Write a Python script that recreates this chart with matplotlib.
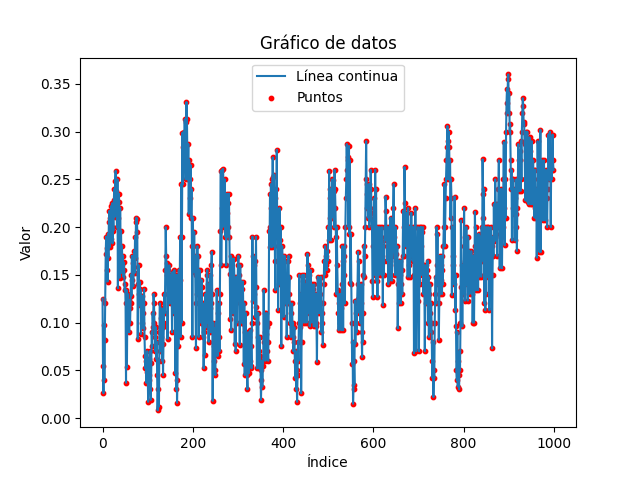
import matplotlib
matplotlib.use("Agg")
import matplotlib.pyplot as plt
import numpy as np

# Valores (índice 0..999)
valores = [
    0.125, 0.055, 0.026, 0.097, 0.040, 0.082, 0.120, 0.172, 0.190, 0.155,
    0.178, 0.143, 0.193, 0.168, 0.205, 0.217, 0.179, 0.210, 0.188, 0.222,
    0.200, 0.225, 0.183, 0.214, 0.196, 0.228, 0.240, 0.211, 0.248, 0.259,
    0.238, 0.226, 0.200, 0.250, 0.136, 0.210, 0.235, 0.226, 0.147, 0.220,
    0.170, 0.196, 0.152, 0.180, 0.160, 0.170, 0.148, 0.163, 0.155, 0.134,
    0.140, 0.120, 0.037, 0.134, 0.053, 0.120, 0.130, 0.101, 0.124, 0.090,
    0.115, 0.100, 0.120, 0.150, 0.128, 0.170, 0.145, 0.162, 0.138, 0.158,
    0.175, 0.152, 0.190, 0.168, 0.205, 0.210, 0.208, 0.195, 0.083, 0.140,
    0.160, 0.130, 0.143, 0.118, 0.135, 0.088, 0.120, 0.100, 0.128, 0.094,
    0.110, 0.120, 0.135, 0.085, 0.065, 0.052, 0.060, 0.037, 0.048, 0.070,
    0.055, 0.017, 0.040, 0.062, 0.045, 0.070, 0.030, 0.019, 0.058, 0.090,
    0.075, 0.110, 0.095, 0.130, 0.120, 0.100, 0.085, 0.070, 0.095, 0.062,
    0.080, 0.045, 0.008, 0.030, 0.060, 0.012, 0.090, 0.120, 0.070, 0.105,
    0.085, 0.115, 0.060, 0.095, 0.045, 0.078, 0.100, 0.130, 0.110, 0.155,
    0.200, 0.170, 0.150, 0.162, 0.083, 0.130, 0.155, 0.140, 0.160, 0.120,
    0.135, 0.150, 0.128, 0.140, 0.090, 0.153, 0.130, 0.145, 0.110, 0.155,
    0.130, 0.047, 0.090, 0.030, 0.150, 0.016, 0.040, 0.135, 0.075, 0.155,
    0.100, 0.145, 0.190, 0.085, 0.245, 0.100, 0.190, 0.299, 0.245, 0.284,
    0.300, 0.265, 0.313, 0.287, 0.250, 0.310, 0.331, 0.313, 0.270, 0.250,
    0.287, 0.214, 0.270, 0.250, 0.230, 0.265, 0.210, 0.240, 0.180, 0.085,
    0.210, 0.180, 0.153, 0.195, 0.160, 0.170, 0.120, 0.073, 0.150, 0.130,
    0.180, 0.155, 0.170, 0.085, 0.140, 0.155, 0.120, 0.130, 0.100, 0.145,
    0.137, 0.100, 0.085, 0.120, 0.052, 0.090, 0.066, 0.110, 0.130, 0.095,
    0.120, 0.150, 0.155, 0.100, 0.140, 0.080, 0.130, 0.115, 0.150, 0.090,
    0.120, 0.160, 0.174, 0.130, 0.018, 0.100, 0.060, 0.075, 0.094, 0.050,
    0.045, 0.100, 0.080, 0.134, 0.090, 0.065, 0.110, 0.085, 0.120, 0.070,
    0.130, 0.196, 0.259, 0.160, 0.220, 0.260, 0.200, 0.261, 0.235, 0.230,
    0.210, 0.250, 0.190, 0.225, 0.160, 0.215, 0.235, 0.190, 0.200, 0.225,
    0.235, 0.190, 0.151, 0.104, 0.170, 0.092, 0.150, 0.130, 0.167, 0.110,
    0.140, 0.167, 0.148, 0.078, 0.130, 0.070, 0.120, 0.148, 0.100, 0.135,
    0.160, 0.170, 0.134, 0.150, 0.077, 0.160, 0.120, 0.143, 0.100, 0.135,
    0.100, 0.143, 0.100, 0.057, 0.120, 0.045, 0.090, 0.110, 0.065, 0.085,
    0.045, 0.030, 0.070, 0.090, 0.047, 0.085, 0.060, 0.092, 0.055, 0.075,
    0.052, 0.100, 0.190, 0.123, 0.170, 0.160, 0.130, 0.165, 0.106, 0.137,
    0.190, 0.116, 0.052, 0.100, 0.085, 0.110, 0.070, 0.052, 0.085, 0.065,
    0.050, 0.019, 0.040, 0.060, 0.033, 0.055, 0.060, 0.134, 0.080, 0.110,
    0.090, 0.060, 0.088, 0.110, 0.070, 0.095, 0.080, 0.060, 0.100, 0.196,
    0.179, 0.235, 0.200, 0.245, 0.220, 0.179, 0.250, 0.273, 0.252, 0.180,
    0.255, 0.230, 0.165, 0.134, 0.240, 0.200, 0.281, 0.190, 0.200, 0.113,
    0.180, 0.140, 0.220, 0.186, 0.160, 0.200, 0.075, 0.170, 0.180, 0.165,
    0.130, 0.106, 0.150, 0.170, 0.120, 0.165, 0.140, 0.148, 0.085, 0.120,
    0.120, 0.165, 0.170, 0.130, 0.148, 0.100, 0.120, 0.085, 0.110, 0.095,
    0.120, 0.085, 0.100, 0.070, 0.080, 0.095, 0.060, 0.042, 0.070, 0.030,
    0.050, 0.017, 0.045, 0.080, 0.060, 0.100, 0.150, 0.120, 0.095, 0.130,
    0.026, 0.080, 0.110, 0.150, 0.100, 0.144, 0.120, 0.150, 0.100, 0.135,
    0.120, 0.140, 0.100, 0.130, 0.172, 0.130, 0.160, 0.110, 0.150, 0.096,
    0.130, 0.155, 0.120, 0.100, 0.140, 0.115, 0.135, 0.120, 0.096, 0.140,
    0.110, 0.125, 0.096, 0.130, 0.100, 0.059, 0.120, 0.148, 0.110, 0.130,
    0.145, 0.110, 0.130, 0.148, 0.120, 0.090, 0.110, 0.100, 0.077, 0.120,
    0.140, 0.165, 0.150, 0.180, 0.155, 0.170, 0.160, 0.155, 0.175, 0.165,
    0.200, 0.186, 0.259, 0.230, 0.210, 0.240, 0.186, 0.220, 0.210, 0.250,
    0.249, 0.220, 0.238, 0.200, 0.260, 0.240, 0.220, 0.190, 0.130, 0.200,
    0.160, 0.134, 0.110, 0.092, 0.120, 0.100, 0.130, 0.095, 0.115, 0.092,
    0.140, 0.180, 0.165, 0.092, 0.170, 0.150, 0.180, 0.120, 0.200, 0.230,
    0.250, 0.287, 0.260, 0.273, 0.270, 0.200, 0.285, 0.193, 0.270, 0.141,
    0.193, 0.140, 0.100, 0.057, 0.080, 0.015, 0.030, 0.060, 0.035, 0.123,
    0.078, 0.100, 0.110, 0.090, 0.120, 0.140, 0.174, 0.125, 0.165, 0.110,
    0.130, 0.100, 0.120, 0.140, 0.090, 0.064, 0.110, 0.080, 0.150, 0.180,
    0.148, 0.170, 0.200, 0.250, 0.290, 0.245, 0.220, 0.235, 0.210, 0.230,
    0.245, 0.200, 0.220, 0.210, 0.260, 0.240, 0.215, 0.200, 0.144, 0.127,
    0.180, 0.200, 0.230, 0.150, 0.260, 0.200, 0.240, 0.144, 0.190, 0.127,
    0.200, 0.170, 0.190, 0.150, 0.200, 0.180, 0.160, 0.185, 0.150, 0.200,
    0.170, 0.118, 0.180, 0.150, 0.165, 0.200, 0.190, 0.232, 0.217, 0.186,
    0.200, 0.165, 0.180, 0.140, 0.200, 0.180, 0.144, 0.165, 0.210, 0.150,
    0.180, 0.144, 0.170, 0.200, 0.220, 0.245, 0.190, 0.172, 0.150, 0.200,
    0.172, 0.160, 0.150, 0.180, 0.094, 0.140, 0.165, 0.120, 0.150, 0.130,
    0.165, 0.120, 0.140, 0.155, 0.130, 0.170, 0.217, 0.200, 0.170, 0.263,
    0.225, 0.200, 0.180, 0.215, 0.190, 0.200, 0.148, 0.220, 0.180, 0.200,
    0.160, 0.148, 0.200, 0.170, 0.215, 0.180, 0.190, 0.165, 0.200, 0.180,
    0.068, 0.150, 0.200, 0.220, 0.200, 0.070, 0.144, 0.123, 0.160, 0.200,
    0.123, 0.070, 0.160, 0.140, 0.200, 0.180, 0.200, 0.150, 0.195, 0.160,
    0.200, 0.130, 0.160, 0.145, 0.070, 0.130, 0.160, 0.120, 0.155, 0.140,
    0.165, 0.100, 0.148, 0.085, 0.130, 0.110, 0.140, 0.090, 0.120, 0.100,
    0.060, 0.042, 0.080, 0.022, 0.050, 0.042, 0.100, 0.130, 0.148, 0.120,
    0.200, 0.160, 0.193, 0.140, 0.150, 0.082, 0.120, 0.170, 0.130, 0.160,
    0.145, 0.170, 0.130, 0.155, 0.140, 0.180, 0.200, 0.245, 0.180, 0.200,
    0.230, 0.250, 0.270, 0.284, 0.306, 0.290, 0.250, 0.300, 0.284, 0.250,
    0.270, 0.210, 0.250, 0.230, 0.129, 0.200, 0.160, 0.170, 0.150, 0.140,
    0.232, 0.113, 0.150, 0.096, 0.050, 0.040, 0.090, 0.033, 0.060, 0.045,
    0.030, 0.070, 0.050, 0.100, 0.207, 0.137, 0.160, 0.096, 0.150, 0.130,
    0.180, 0.220, 0.165, 0.123, 0.190, 0.150, 0.200, 0.140, 0.175, 0.123,
    0.190, 0.160, 0.175, 0.130, 0.170, 0.160, 0.140, 0.175, 0.130, 0.160,
    0.100, 0.140, 0.170, 0.100, 0.150, 0.216, 0.180, 0.200, 0.134, 0.190,
    0.160, 0.180, 0.134, 0.193, 0.148, 0.170, 0.165, 0.150, 0.190, 0.148,
    0.200, 0.165, 0.271, 0.235, 0.210, 0.240, 0.120, 0.200, 0.113, 0.170,
    0.130, 0.200, 0.170, 0.148, 0.190, 0.200, 0.180, 0.113, 0.190, 0.170,
    0.200, 0.150, 0.180, 0.073, 0.150, 0.190, 0.170, 0.224, 0.185, 0.190,
    0.250, 0.224, 0.193, 0.210, 0.170, 0.224, 0.200, 0.240, 0.270, 0.210,
    0.157, 0.210, 0.190, 0.240, 0.210, 0.157, 0.220, 0.200, 0.250, 0.289,
    0.220, 0.181, 0.250, 0.210, 0.300, 0.330, 0.345, 0.320, 0.355, 0.360,
    0.320, 0.340, 0.300, 0.308, 0.270, 0.240, 0.260, 0.186, 0.250, 0.220,
    0.250, 0.214, 0.240, 0.186, 0.230, 0.214, 0.200, 0.250, 0.175, 0.220,
    0.240, 0.287, 0.270, 0.238, 0.280, 0.270, 0.238, 0.290, 0.250, 0.300,
    0.320, 0.335, 0.327, 0.308, 0.310, 0.287, 0.250, 0.228, 0.300, 0.270,
    0.228, 0.300, 0.226, 0.250, 0.224, 0.270, 0.294, 0.260, 0.280, 0.224,
    0.270, 0.290, 0.224, 0.250, 0.270, 0.230, 0.260, 0.210, 0.260, 0.220,
    0.210, 0.240, 0.168, 0.220, 0.290, 0.250, 0.230, 0.270, 0.174, 0.240,
    0.302, 0.174, 0.250, 0.270, 0.240, 0.260, 0.207, 0.250, 0.270, 0.240,
    0.240, 0.207, 0.260, 0.250, 0.230, 0.200, 0.240, 0.260, 0.297, 0.270,
    0.250, 0.300, 0.260, 0.200, 0.270, 0.250, 0.260, 0.297, 0.270, 0.260,
]

indices = np.arange(len(valores))

fig, ax = plt.subplots(figsize=(6.4, 4.8), dpi=100)

ax.plot(indices, valores, label="Línea continua")
ax.scatter(indices, valores, color="red", s=10, label="Puntos")

ax.set_title("Gráfico de datos")
ax.set_xlabel("Índice")
ax.set_ylabel("Valor")
ax.legend(loc="upper center")

fig.savefig("out.png", dpi=100)
